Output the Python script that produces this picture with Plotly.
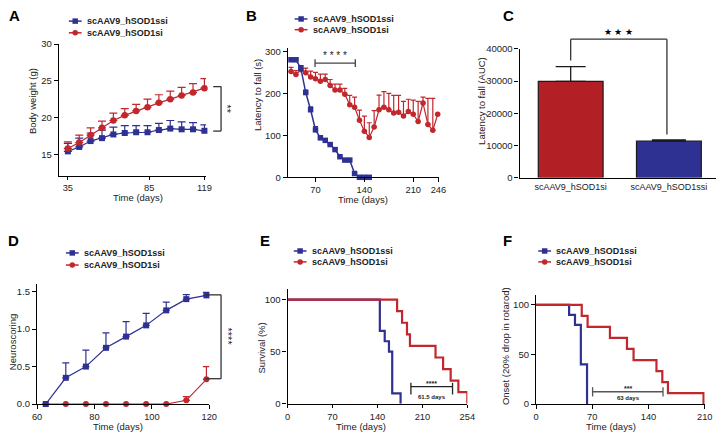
import plotly.graph_objects as go

W, H = 726, 438
def fx(p): return p / W
def fy(p): return 1 - p / H

BLUE = "#2e3192"
RED = "#c1272d"
FONT = "Liberation Sans, Arial, Helvetica, sans-serif"
TXT = "#222222"

SSI = "scAAV9_hSOD1ssi"
SI = "scAAV9_hSOD1si"

# ---------------- data ----------------
# A: body weight
A_days = [35, 42, 49, 56, 63, 70, 77, 84, 91, 98, 105, 112, 119]
A_ssi = [15.4, 16.0, 16.8, 17.2, 17.7, 17.9, 18.0, 18.0, 18.3, 18.5, 18.4, 18.4, 18.2]
A_ssi_err = [1.1, 1.2, 1.1, 1.1, 1.0, 1.0, 0.9, 0.9, 0.9, 1.1, 1.0, 0.9, 0.8]
A_si = [15.8, 16.6, 17.6, 18.6, 19.6, 20.3, 20.9, 21.4, 22.0, 22.5, 23.0, 23.4, 24.0]
A_si_err = [0.9, 1.0, 1.0, 0.9, 1.0, 0.9, 0.9, 1.1, 1.1, 1.1, 1.1, 1.2, 1.3]
A_xticks = [35, 85, 119]
A_yticks = [15, 20, 25, 30]

# B: latency to fall
B_ssi_days = [35, 42, 49, 56, 63, 70, 77, 84, 91, 98, 105, 112, 119, 126, 133, 140, 147]
B_ssi = [280, 280, 260, 202, 161, 113, 94, 88, 78, 66, 49, 41, 41, 9, 0, 0, 0]
B_ssi_err = [4, 4, 6, 6, 7, 8, 5, 4, 4, 4, 4, 3, 3, 3, 0, 0, 0]
B_si_days = [35, 42, 49, 56, 63, 70, 77, 84, 91, 98, 105, 112, 119, 126, 133, 140,
             147, 154, 161, 168, 175, 182, 189, 196, 203, 210, 217, 224, 231, 238, 245]
B_si = [252, 245, 256, 249, 239, 235, 229, 233, 219, 208, 208, 198, 173, 167, 136, 110,
        95, 120, 161, 167, 161, 153, 155, 146, 157, 150, 133, 177, 126, 112, 150]
B_si_err = [10, 9, 10, 11, 14, 15, 17, 13, 14, 14, 14, 14, 22, 24, 24, 36,
            35, 39, 35, 37, 39, 42, 40, 35, 29, 34, 48, 14, 62, 76, 0]
B_xticks = [70, 140, 210, 246]
B_yticks = [0, 100, 200, 300]

# C: AUC
C_groups = [SI, SSI]
C_auc = [29900, 11300]
C_err = [4600, 400]
C_yticks = [0, 10000, 20000, 30000, 40000]

# D: neuroscoring
D_days = [63, 70, 77, 84, 91, 98, 105, 112, 119]
D_ssi = [0, 0.35, 0.5, 0.75, 0.9, 1.05, 1.25, 1.4, 1.45]
D_ssi_err = [0, 0.2, 0.22, 0.2, 0.2, 0.16, 0.11, 0.06, 0.04]
D_si = [0, 0, 0, 0, 0, 0, 0, 0.05, 0.33]
D_si_err = [0, 0, 0, 0, 0, 0, 0, 0.05, 0.17]
D_xticks = [60, 80, 100, 120]
D_yticks = [0, 0.5, 1.0, 1.5]

# E: survival (Kaplan-Meier steps)
E_ssi_t = [0, 143.7, 151.3, 157.9, 163, 176]
E_ssi_s = [100, 70, 60, 50, 10, 0]
E_si_t = [0, 170.6, 178.3, 186, 190.6, 230.4, 242.2, 254, 266, 280]
E_si_s = [100, 88.9, 77.8, 66.7, 55.6, 44.4, 33.3, 22.2, 11.1, 0]
E_tickvals = [0, 70, 140, 210, 280]
E_ticklabels = ["0", "70", "140", "210", "254"]
E_yticks = [0, 50, 100]

# F: onset
F_ssi_t = [0, 41.2, 48.5, 55.8, 63.5]
F_ssi_s = [100, 90, 80, 40, 0]
F_si_t = [0, 56.9, 64.2, 92, 113.2, 121.4, 149.9, 157.2, 164.2, 208.5]
F_si_s = [100, 88.9, 77.8, 66.7, 55.6, 44.4, 33.3, 22.2, 11.1, 0]
F_xticks = [0, 70, 140, 210]
F_yticks = [0, 50, 100]

fig = go.Figure()

def err(arr, color, width, thick=1.2):
    return dict(type="data", array=arr, arrayminus=[0] * len(arr), symmetric=False,
                color=color, thickness=thick, width=width)

def line_trace(x, y, e, color, symbol, size, xa, ya, lw=1.2, cap=3.5, name=""):
    fig.add_trace(go.Scatter(
        x=x, y=y, mode="lines+markers", name=name, showlegend=False,
        line=dict(color=color, width=lw),
        marker=dict(symbol=symbol, size=size, color=color, line=dict(width=0)),
        error_y=err(e, color, cap) if e is not None else None,
        xaxis=xa, yaxis=ya, cliponaxis=False))

def step_trace(x, y, color, xa, ya, name=""):
    fig.add_trace(go.Scatter(
        x=x, y=y, mode="lines", name=name, showlegend=False, line_shape="hv",
        line=dict(color=color, width=2.2), xaxis=xa, yaxis=ya, cliponaxis=False))

# A
line_trace(A_days, A_ssi, A_ssi_err, BLUE, "square", 6, "x", "y", name=SSI, cap=4)
line_trace(A_days, A_si, A_si_err, RED, "circle", 6.5, "x", "y", name=SI, cap=4)
# B
line_trace(B_si_days, B_si, B_si_err, RED, "circle", 5.5, "x2", "y2", name=SI, cap=2.5)
line_trace(B_ssi_days, B_ssi, B_ssi_err, BLUE, "square", 5.5, "x2", "y2", lw=1.5, name=SSI, cap=2.5)
# C
for i, col, cap in [(0, "#b21f24", 15), (1, BLUE, 17)]:
    fig.add_trace(go.Bar(
        x=[C_groups[i]], y=[C_auc[i]], width=0.66, showlegend=False,
        marker=dict(color=col, line=dict(color="#1a1a1a", width=1.2)),
        error_y=err([C_err[i]], "#1a1a1a", cap, 1.3),
        xaxis="x3", yaxis="y3", cliponaxis=False))
# D
line_trace(D_days, D_si, D_si_err, RED, "circle", 6, "x4", "y4", name=SI, cap=3.5)
line_trace(D_days, D_ssi, D_ssi_err, BLUE, "square", 6, "x4", "y4", name=SSI, cap=3.5)
# E
step_trace(E_ssi_t, E_ssi_s, BLUE, "x5", "y5", SSI)
step_trace(E_si_t, E_si_s, RED, "x5", "y5", SI)
# F
step_trace(F_ssi_t, F_ssi_s, BLUE, "x6", "y6", SSI)
step_trace(F_si_t, F_si_s, RED, "x6", "y6", SI)

def xax(l, r, rng, tickvals, anchor, ticktext=None, ticks="outside"):
    d = dict(domain=[fx(l), fx(r)], range=rng, anchor=anchor, showline=True,
             linecolor="black", linewidth=1.3, ticks=ticks, ticklen=3.5, tickwidth=1.2,
             tickcolor="black", showgrid=False, zeroline=False,
             tickfont=dict(family=FONT, size=9.3, color=TXT), fixedrange=True)
    if tickvals is not None:
        d["tickvals"] = tickvals
    if ticktext is not None:
        d["ticktext"] = ticktext
    return d

def yax(top, bottom, rng, tickvals, anchor, fmt=None):
    d = dict(domain=[fy(bottom), fy(top)], range=rng, anchor=anchor, showline=True,
             linecolor="black", linewidth=1.3, ticks="outside", ticklen=4, tickwidth=1.2,
             tickcolor="black", showgrid=False, zeroline=False, tickvals=tickvals,
             tickfont=dict(family=FONT, size=9.5, color=TXT), fixedrange=True)
    if fmt:
        d["tickformat"] = fmt
    return d

layout = dict(
    width=W, height=H, margin=dict(l=0, r=0, t=0, b=0),
    paper_bgcolor="white", plot_bgcolor="rgba(0,0,0,0)",
    font=dict(family=FONT, color=TXT), showlegend=False, barmode="overlay",
    xaxis=xax(54.9, 204.7, [29.5, 120], A_xticks, "y"),
    yaxis=yax(39, 174, [12.1, 30], A_yticks, "x"),
    xaxis2=xax(288, 442, [30.4, 247], B_xticks, "y2"),
    yaxis2=yax(42.7, 175.7, [0, 309], B_yticks, "x2"),
    xaxis3=xax(524, 724, [-0.52, 1.48], None, "y3", ticks=""),
    yaxis3=yax(44, 176, [0, 40000], C_yticks, "x3", fmt="d"),
    xaxis4=xax(32.7, 208, [60, 120], D_xticks, "y4"),
    yaxis4=yax(285, 408.3, [0, 1.604], D_yticks, "x4", fmt=".1f"),
    xaxis5=xax(287.7, 470.8, [0, 280], E_tickvals, "y5", ticktext=E_ticklabels),
    yaxis5=yax(290.5, 408, [0, 110], E_yticks, "x5"),
    xaxis6=xax(540.7, 712.5, [0, 210], F_xticks, "y6"),
    yaxis6=yax(296.5, 408.3, [0, 110], F_yticks, "x6"),
)
layout["xaxis3"]["type"] = "category"
layout["xaxis3"]["tickfont"] = dict(family=FONT, size=9, color=TXT)
fig.update_layout(**layout)

shapes = []
ann = []

def seg(x0, y0, x1, y1, color="#333333", w=1.3):
    shapes.append(dict(type="line", xref="paper", yref="paper",
                       x0=fx(x0), y0=fy(y0), x1=fx(x1), y1=fy(y1),
                       line=dict(color=color, width=w)))

def text(x, y, s, size=9.5, angle=0, xanchor="center", yanchor="middle", bold=False, color=TXT):
    ann.append(dict(xref="paper", yref="paper", x=fx(x), y=fy(y), text=("<b>%s</b>" % s) if bold else s,
                    showarrow=False, textangle=angle, xanchor=xanchor, yanchor=yanchor,
                    font=dict(family=FONT, size=size, color=color)))

def legend(x0, yb, yr):
    for y, col, sym, lab in [(yb, BLUE, "sq", SSI), (yr, RED, "ci", SI)]:
        seg(x0, y, x0 + 13, y, col, 1.5)
        cx = x0 + 6.5
        r = 2.8
        shapes.append(dict(type="rect" if sym == "sq" else "circle", xref="paper", yref="paper",
                           x0=fx(cx - r), x1=fx(cx + r), y0=fy(y + r), y1=fy(y - r),
                           fillcolor=col, line=dict(width=0)))
        text(x0 + 16.5, y, lab, size=9, xanchor="left", bold=True)

legend(65, 15.5, 27.5)
legend(295, 13.3, 24.3)
legend(62, 253.3, 265.7)
legend(294, 251.3, 262.5)
legend(543, 251.3, 262.5)

# panel letters
for lab, x, y in [("A", 2, 10), ("B", 243, 10), ("C", 505, 10),
                  ("D", 1, 241), ("E", 258, 241), ("F", 505, 241)]:
    text(x, y, lab, size=15, xanchor="left", bold=True, color="black")

# axis titles
text(28, 97, "Body weight (g)", angle=-90)
text(135, 196, "Time (days)")
text(257, 91, "Latency to fall (s)", angle=-90)
text(365, 198.5, "Time (days)")
text(485, 97, "Latency to fall (AUC)", angle=-90)
text(7, 344, "Neuroscoring", angle=-90)
text(115, 431, "Time (days)")
text(261, 351, "Survival (%)", angle=-90)
text(362, 431, "Time (days)")
text(509, 349, "Onset (20% drop in rotarod)", angle=-90)
text(617, 431, "Time (days)")

# significance: A
seg(212, 82.7, 220, 82.7); seg(220, 82.7, 220, 128.3); seg(212, 128.3, 220, 128.3)
text(226, 106, "**", size=11, angle=90)
# B
seg(315.7, 58.5, 356.7, 58.5, "#444444"); seg(315.7, 54.5, 315.7, 62.5, "#444444"); seg(356.7, 54.5, 356.7, 62.5, "#444444")
text(336.3, 51, "* * * *", size=10)
# C
seg(576, 34, 674, 34); seg(576, 34, 576, 56); seg(674, 34, 674, 131.7)
text(625, 26.5, "★ ★ ★", size=8.5, color="black")
# D
seg(204, 296.3, 220, 296.3); seg(220, 296.3, 220, 382.3); seg(204, 382.3, 220, 382.3)
text(227, 339, "****", size=11, angle=90)
# E
seg(413.3, 390.5, 455.7, 390.5, "#222222"); seg(413.3, 386.5, 413.3, 398.5, "#222222"); seg(455.7, 386.5, 455.7, 398.5, "#222222")
text(434.5, 387, "****", size=7, bold=True)
text(434.5, 401.5, "61.5 days", size=6, bold=True)
# F
seg(598.3, 395.7, 670, 395.7, "#555555"); seg(598.3, 391, 598.3, 400.5, "#555555"); seg(670, 391, 670, 400.5, "#555555")
text(634.5, 392, "***", size=7, bold=True)
text(634.5, 402.5, "63 days", size=6, bold=True)

fig.update_layout(shapes=shapes, annotations=ann)
fig.write_html("out.html", config={"displayModeBar": False},
               post_script="document.body.style.margin='0px';document.body.style.overflow='hidden';")
